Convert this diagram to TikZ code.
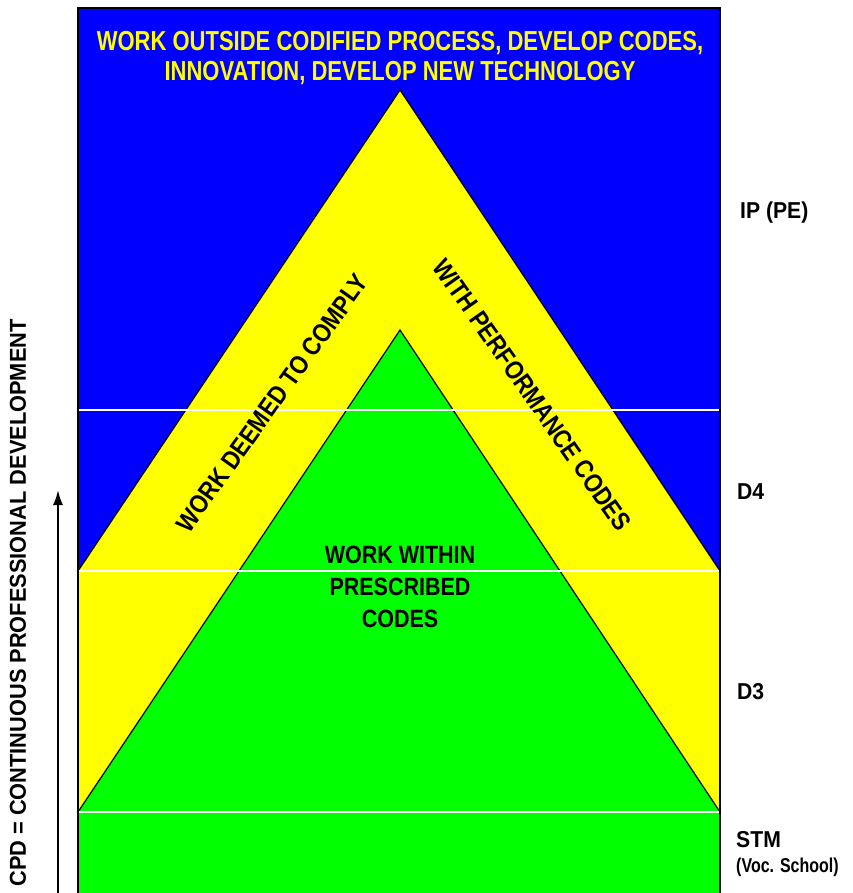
\documentclass[tikz,border=0pt]{standalone}
\usepackage{fontspec}
\usetikzlibrary{arrows.meta}
\setmainfont{Liberation Sans}
\newfontfamily\fT{Liberation Sans}[FakeStretch=0.8]
\newfontfamily\fM{Liberation Sans}[FakeStretch=0.86]
\newfontfamily\fW{Liberation Sans}[FakeStretch=0.92]
\begin{document}
\begin{tikzpicture}[x=1pt,y=-1pt,
  band/.style={draw=black,line width=1.2pt},
  sep/.style={draw=white,line width=2.5pt},
  lbl/.style={font=\fM\bfseries\fontsize{26}{30}\selectfont,inner sep=0pt,align=center},
  side/.style={font=\fW\bfseries\fontsize{23}{26}\selectfont,inner sep=0pt,anchor=west}]
\useasboundingbox (0,0) rectangle (852,893);
\definecolor{cblue}{RGB}{0,0,255}
\definecolor{cyel}{RGB}{255,255,0}
\definecolor{cgreen}{RGB}{0,255,0}
\begin{scope}
\clip (0,0) rectangle (852,893);
\fill[cblue] (78,8) rectangle (720,571);
\fill[cyel] (78,571) rectangle (720,812);
\fill[cgreen] (78,812) rectangle (720,900);
\filldraw[band,fill=cyel] (400,90) -- (720,571) -- (78,571) -- cycle;
\filldraw[band,fill=cgreen] (400,330) -- (720,812) -- (78,812) -- cycle;
\draw[sep] (78,410) -- (720,410);
\draw[sep] (78,571) -- (720,571);
\draw[sep] (78,812) -- (720,812);
\draw[line width=1.2pt] (78,900) -- (78,8) -- (720,8) -- (720,900);
\end{scope}
\node[lbl,text=cyel,font=\fT\bfseries\fontsize{27.5}{30}\selectfont] (title) at (400,58)
  {WORK OUTSIDE CODIFIED PROCESS, DEVELOP CODES,\\INNOVATION, DEVELOP NEW TECHNOLOGY};
\node[lbl,rotate=54.5] (deemed) at (272,403) {WORK DEEMED TO COMPLY};
\node[lbl,rotate=-55] (perf) at (532,395) {WITH PERFORMANCE CODES};
\node[lbl,font=\fM\bfseries\fontsize{25}{32}\selectfont] (within) at (400,587) {WORK WITHIN\\PRESCRIBED\\CODES};
\node[lbl,rotate=90,font=\fW\bfseries\fontsize{23}{26}\selectfont,xscale=1.03] (cpd) at (18,603) {CPD = CONTINUOUS PROFESSIONAL DEVELOPMENT};
\coordinate (abot) at (58,893);
\coordinate (atop) at (58,490);
\draw[line width=2pt,-{Latex[length=15pt,width=10pt]}] (abot) -- (atop);
\node[side] (ip) at (740,213) {IP (PE)};
\node[side] (d4) at (737,492) {D4};
\node[side] (d3) at (737,692) {D3};
\node[side] (stm) at (736,840) {STM};
\node[side,font=\fT\bfseries\fontsize{20}{22}\selectfont] (voc) at (736,867) {(Voc. School)};
\end{tikzpicture}
\end{document}
